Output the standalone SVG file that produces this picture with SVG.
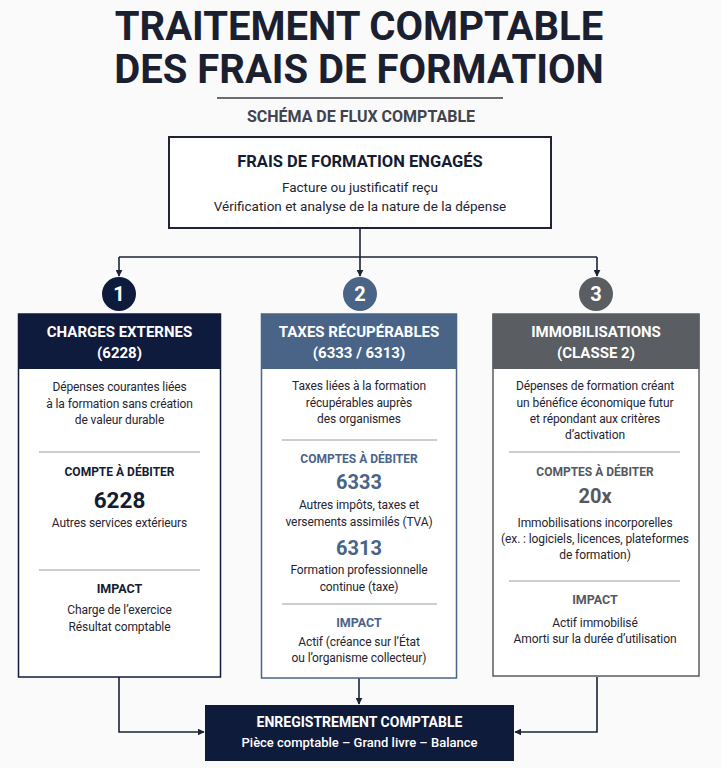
<svg xmlns="http://www.w3.org/2000/svg" width="721" height="768" viewBox="0 0 721 768">
<defs>
<style>
text{font-family:Roboto,"Liberation Sans",sans-serif;text-anchor:middle}
.t{font-size:40px;font-weight:700;fill:#1b2030}
.sub{font-size:16px;font-weight:700;fill:#40444f}
.h{font-size:16.5px;font-weight:700;fill:#141c33}
.b{font-size:12px;fill:#1f2430;letter-spacing:-0.1px}
.hw{font-size:15px;font-weight:700;fill:#fff}
.num{font-size:20px;font-weight:700;fill:#fff}
.lbl{font-size:12px;font-weight:700}
.big{font-weight:700}
.div{stroke:#9a9ca2;stroke-width:1}
.con{fill:none;stroke:#1b2233;stroke-width:1.6}
</style>
<marker id="ar" viewBox="0 0 10 10" refX="9" refY="5" markerWidth="7" markerHeight="7" orient="auto" markerUnits="userSpaceOnUse">
<path d="M0,0 L10,5 L0,10 z" fill="#1b2233"/>
</marker>
</defs>
<rect width="721" height="768" fill="#fafafa"/>
<g id="title">
<text class="t" x="359" y="40">TRAITEMENT COMPTABLE</text>
<text class="t" x="359" y="83">DES FRAIS DE FORMATION</text>
<line x1="217" y1="98" x2="503" y2="98" stroke="#3a3d45" stroke-width="1.5"/>
<text class="sub" x="361" y="122">SCHÉMA DE FLUX COMPTABLE</text>
</g>
<g id="connectors">
<path class="con" d="M360,228 V257"/>
<path class="con" d="M119,257 H597"/>
<path class="con" d="M119,257 V276" marker-end="url(#ar)"/>
<path class="con" d="M360,257 V276" marker-end="url(#ar)"/>
<path class="con" d="M597,257 V276" marker-end="url(#ar)"/>
<path class="con" d="M119,677 V732 H204" marker-end="url(#ar)"/>
<path class="con" d="M359,678 V704" marker-end="url(#ar)"/>
<path class="con" d="M597,677 V732 H515" marker-end="url(#ar)"/>
</g>
<g id="top">
<rect x="169" y="137" width="382" height="91" fill="#fff" stroke="#1e2433" stroke-width="2"/>
<text class="h" x="360" y="167">FRAIS DE FORMATION ENGAGÉS</text>
<text x="360" y="192" style="font-size:13.5px;fill:#1f2430">Facture ou justificatif reçu</text>
<text x="360" y="211" style="font-size:13.5px;fill:#1f2430">Vérification et analyse de la nature de la dépense</text>
</g>
<g id="badge1"><circle cx="119" cy="294" r="17" fill="#0f1b3d"/><text class="num" x="119" y="301">1</text></g>
<g id="badge2"><circle cx="360" cy="294" r="17" fill="#4a6488"/><text class="num" x="360" y="301">2</text></g>
<g id="badge3"><circle cx="596" cy="294" r="17" fill="#5a5d62"/><text class="num" x="596" y="301">3</text></g>
<g id="col1">
<rect x="18.5" y="314" width="202" height="363" fill="#fff" stroke="#0f1b3d" stroke-width="1.5"/>
<rect x="18" y="314" width="203" height="55" fill="#0f1b3d"/>
<text class="hw" x="119.5" y="337">CHARGES EXTERNES</text>
<text class="hw" x="119.5" y="358">(6228)</text>
<text class="b" x="119.5" y="391">Dépenses courantes liées</text>
<text class="b" x="119.5" y="407.5">à la formation sans création</text>
<text class="b" x="119.5" y="424">de valeur durable</text>
<line class="div" x1="39" y1="452" x2="200" y2="452"/>
<text class="lbl" x="119.5" y="476" fill="#141c33">COMPTE À DÉBITER</text>
<text class="big" x="119.5" y="508" font-size="22.5" fill="#141c33">6228</text>
<text class="b" x="119.5" y="527">Autres services extérieurs</text>
<line class="div" x1="39" y1="570" x2="200" y2="570"/>
<text class="lbl" x="119.5" y="593" fill="#141c33" style="font-size:12.5px">IMPACT</text>
<text class="b" x="119.5" y="614">Charge de l’exercice</text>
<text class="b" x="119.5" y="631">Résultat comptable</text>
</g>
<g id="col2">
<rect x="261.5" y="314" width="195" height="364" fill="#fff" stroke="#4a6488" stroke-width="1.5"/>
<rect x="261" y="314" width="196" height="55" fill="#4a6488"/>
<text class="hw" x="359" y="337">TAXES RÉCUPÉRABLES</text>
<text class="hw" x="359" y="358">(6333 / 6313)</text>
<text class="b" x="359" y="390">Taxes liées à la formation</text>
<text class="b" x="359" y="407">récupérables auprès</text>
<text class="b" x="359" y="423">des organismes</text>
<line class="div" x1="282" y1="440" x2="437" y2="440"/>
<text class="lbl" x="359" y="463" fill="#4a6488">COMPTES À DÉBITER</text>
<text class="big" x="359" y="489" font-size="20" fill="#4a6488">6333</text>
<text class="b" x="359" y="509">Autres impôts, taxes et</text>
<text class="b" x="359" y="526">versements assimilés (TVA)</text>
<text class="big" x="359" y="555" font-size="20" fill="#4a6488">6313</text>
<text class="b" x="359" y="574">Formation professionnelle</text>
<text class="b" x="359" y="591">continue (taxe)</text>
<line class="div" x1="282" y1="604" x2="437" y2="604"/>
<text class="lbl" x="359" y="627" fill="#4a6488" style="font-size:12.5px">IMPACT</text>
<text class="b" x="359" y="646">Actif (créance sur l’État</text>
<text class="b" x="359" y="662">ou l’organisme collecteur)</text>
</g>
<g id="col3">
<rect x="493" y="314" width="206" height="362" fill="#fff" stroke="#5a5d62" stroke-width="1.5"/>
<rect x="492.5" y="314" width="207" height="55" fill="#5a5d62"/>
<text class="hw" x="596" y="337">IMMOBILISATIONS</text>
<text class="hw" x="596" y="358">(CLASSE 2)</text>
<text class="b" x="595" y="390">Dépenses de formation créant</text>
<text class="b" x="595" y="406.5">un bénéfice économique futur</text>
<text class="b" x="595" y="423">et répondant aux critères</text>
<text class="b" x="595" y="439">d’activation</text>
<line class="div" x1="509" y1="452" x2="680" y2="452"/>
<text class="lbl" x="595" y="476" fill="#55585e">COMPTES À DÉBITER</text>
<text class="big" x="595" y="503" font-size="20" fill="#55585e">20x</text>
<text class="b" x="595" y="527">Immobilisations incorporelles</text>
<text class="b" x="595" y="543">(ex. : logiciels, licences, plateformes</text>
<text class="b" x="595" y="559">de formation)</text>
<line class="div" x1="509" y1="581" x2="680" y2="581"/>
<text class="lbl" x="595" y="604" fill="#55585e" style="font-size:12.5px">IMPACT</text>
<text class="b" x="595" y="627">Actif immobilisé</text>
<text class="b" x="595" y="643">Amorti sur la durée d’utilisation</text>
</g>
<g id="bottom">
<rect x="205" y="705" width="309" height="56" fill="#0f1b3a"/>
<text x="359.5" y="727" style="font-size:14px;font-weight:700;fill:#fff">ENREGISTREMENT COMPTABLE</text>
<text x="359.5" y="747" style="font-size:13px;font-weight:500;fill:#fff">Pièce comptable – Grand livre – Balance</text>
</g>
</svg>
